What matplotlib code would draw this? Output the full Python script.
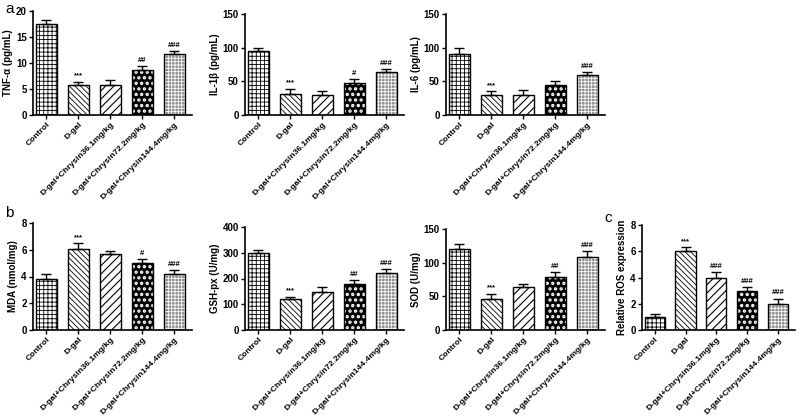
import matplotlib
matplotlib.use("Agg")
import matplotlib.pyplot as plt

groups = ["Control", "D-gal", "D-gal+Chrysin36.1mg/kg",
          "D-gal+Chrysin72.2mg/kg", "D-gal+Chrysin144.4mg/kg"]

tnf = [17.5, 5.8, 5.8, 8.7, 11.7]
tnf_err = [0.7, 0.6, 0.9, 0.8, 0.6]
tnf_sig = ["", "***", "", "##", "###"]

il1b = [95, 31, 30, 47, 64]
il1b_err = [4, 8, 6, 7, 4]
il1b_sig = ["", "***", "", "#", "###"]

il6 = [91, 30, 29, 45, 59]
il6_err = [8, 6, 8, 6, 5]
il6_sig = ["", "***", "", "", "###"]

mda = [3.8, 6.05, 5.7, 5.0, 4.15]
mda_err = [0.4, 0.45, 0.2, 0.3, 0.3]
mda_sig = ["", "***", "", "#", "###"]

gsh = [298, 120, 148, 180, 222]
gsh_err = [13, 10, 20, 15, 15]
gsh_sig = ["", "***", "", "##", "###"]

sod = [120, 46, 64, 79, 109]
sod_err = [8, 8, 5, 7, 8]
sod_sig = ["", "***", "", "##", "###"]

ros = [1.0, 6.0, 4.0, 3.0, 2.0]
ros_err = [0.2, 0.3, 0.4, 0.3, 0.4]
ros_sig = ["", "***", "###", "###", "###"]

plt.rcParams["font.family"] = "Liberation Sans"
plt.rcParams["hatch.linewidth"] = 0.6

fig = plt.figure(figsize=(8, 4.18), dpi=100)
W, H = 800, 418

# (face, hatch colour, hatch, hatch linewidth)
styles = [("white", "black", "++++", 0.6),
          ("white", "black", "\\\\\\\\\\\\", 0.6),
          ("white", "black", "////", 0.8),
          ("black", "white", "...", 1.6),
          ("#8c8c8c", "white", "+++++", 0.6)]


def panel(x0, y_top, y_bot, w, vals, errs, sigs, ylim, yticks, ylabel):
    ax = fig.add_axes([x0 / W, 1 - y_bot / H, w / W, (y_bot - y_top) / H])
    xs = range(len(vals))
    for i in xs:
        face, hc, hatch, hlw = styles[i]
        with plt.rc_context({"hatch.linewidth": hlw}):
            ax.bar(i, vals[i], width=0.66, color=face, edgecolor=hc,
                   hatch=hatch, linewidth=0, zorder=2)
        ax.bar(i, vals[i], width=0.66, fill=False, edgecolor="black",
               linewidth=1.0, zorder=3)
        ax.errorbar(i, vals[i], yerr=[[0], [errs[i]]], fmt="none",
                    ecolor="black", elinewidth=1.0, capsize=3.5,
                    capthick=1.0, zorder=4)
        if sigs[i]:
            ax.text(i, vals[i] + errs[i] + ylim[1] * 0.02, sigs[i],
                    ha="center", va="bottom", fontsize=5.5, fontweight="bold")
    ax.set_xlim(-0.42, 4.56)
    ax.set_ylim(*ylim)
    ax.set_yticks(yticks)
    ax.set_xticks(list(xs))
    ax.set_xticklabels(groups, rotation=45, ha="right", rotation_mode="anchor",
                       fontsize=6.1, fontweight="bold")
    for t in ax.get_yticklabels():
        t.set_fontweight("bold")
        t.set_fontsize(7)
    ax.set_ylabel(ylabel, fontsize=7, fontweight="bold", labelpad=2)
    ax.spines["top"].set_visible(False)
    ax.spines["right"].set_visible(False)
    ax.spines["left"].set_linewidth(1.2)
    ax.spines["bottom"].set_linewidth(1.2)
    ax.tick_params(width=1, length=3, pad=1.5)
    return ax


panel(33, 11, 115, 159, tnf, tnf_err, tnf_sig, (0, 20), [0, 5, 10, 15, 20],
      "TNF-α (pg/mL)")
panel(245, 14, 115, 159, il1b, il1b_err, il1b_sig, (0, 150), [0, 50, 100, 150],
      "IL-1β (pg/mL)")
panel(446, 14, 115, 159, il6, il6_err, il6_sig, (0, 150), [0, 50, 100, 150],
      "IL-6 (pg/mL)")
panel(33, 223, 330, 159, mda, mda_err, mda_sig, (0, 8), [0, 2, 4, 6, 8],
      "MDA (nmol/mg)")
panel(245, 227, 330, 159, gsh, gsh_err, gsh_sig, (0, 400), [0, 100, 200, 300, 400],
      "GSH-px (U/mg)")
panel(446, 229, 330, 159, sod, sod_err, sod_sig, (0, 150), [0, 50, 100, 150],
      "SOD (U/mg)")
panel(642, 225, 330, 153, ros, ros_err, ros_sig, (0, 8), [0, 2, 4, 6, 8],
      "Relative ROS expression")

fig.text(5 / W, 1 - 9 / H, "a", fontsize=11, va="center")
fig.text(5 / W, 1 - 213 / H, "b", fontsize=11, va="center")
fig.text(604 / W, 1 - 218 / H, "c", fontsize=11, va="center")

fig.savefig("out.png", dpi=100)
